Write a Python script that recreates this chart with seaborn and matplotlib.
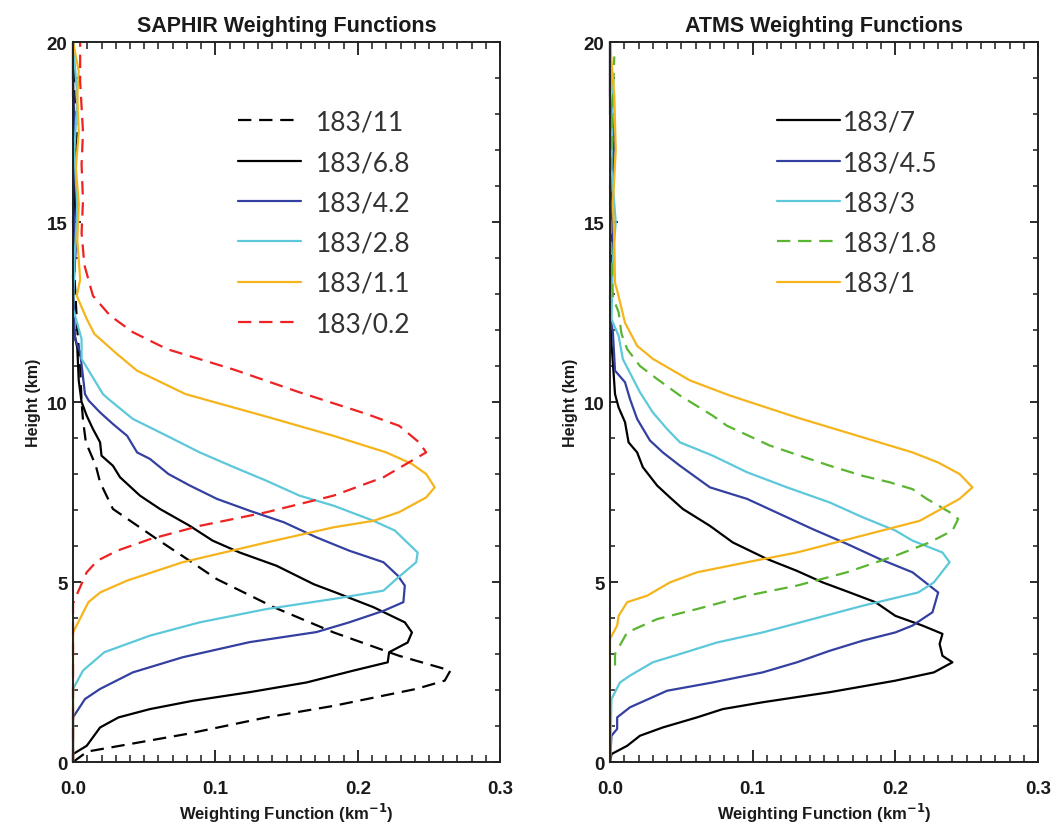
import numpy as np
import pandas as pd
import matplotlib
matplotlib.use('Agg')
import matplotlib.pyplot as plt
import seaborn as sns
from matplotlib.ticker import MultipleLocator

# ---- SAPHIR channels (height km, weighting function km^-1) ----
saphir_labels = ['183/11', '183/6.8', '183/4.2', '183/2.8', '183/1.1', '183/0.2']

s11_h = [0.0, 0.29, 0.78, 1.24, 1.56, 2.03, 2.26, 2.54, 2.95, 3.60, 4.30, 5.08, 5.64, 6.19, 7.03, 7.77,
         8.23, 8.88, 9.50, 10.0, 11.0, 12.0, 13.5, 15.0, 16.5, 17.3, 18.5, 20.0]
s11_w = [0.0, 0.010, 0.080, 0.136, 0.183, 0.241, 0.261, 0.265, 0.229, 0.183, 0.141, 0.101, 0.080, 0.059, 0.028, 0.019,
         0.016, 0.009, 0.007, 0.006, 0.005, 0.003, 0.001, 0.0, 0.001, 0.003, 0.001, 0.0]

s68_h = [0.0, 0.22, 0.45, 0.96, 1.24, 1.47, 1.70, 1.94, 2.21, 2.54, 2.77, 3.05, 3.32, 3.60, 3.88, 4.30, 4.67,
         4.94, 5.45, 5.82, 6.15, 6.56, 7.03, 7.40, 7.91, 8.23, 8.51, 8.88, 9.25, 9.62, 10.0, 10.6, 11.5, 12.0,
         13.5, 15.0, 17.0, 18.5, 20.0]
s68_w = [0.0, 0.0, 0.0096, 0.019, 0.032, 0.054, 0.084, 0.124, 0.164, 0.197, 0.221, 0.222, 0.235, 0.238, 0.233,
         0.211, 0.187, 0.169, 0.143, 0.117, 0.098, 0.082, 0.061, 0.047, 0.033, 0.028, 0.020, 0.019, 0.014, 0.0096,
         0.006, 0.004, 0.003, 0.0005, 0.0, 0.001, 0.002, 0.0, 0.0]

s42_h = [0.0, 1.24, 1.75, 2.03, 2.49, 2.91, 3.33, 3.61, 3.88, 4.20, 4.44, 4.90, 5.18, 5.55, 5.87, 6.24, 6.66,
         6.98, 7.31, 7.68, 8.0, 8.42, 8.60, 9.06, 9.39, 9.71, 10.04, 10.22, 11.38, 11.75, 13.0, 14.3, 15.5,
         17.0, 19.0, 20.0]
s42_w = [0.0, 0.0, 0.0084, 0.019, 0.042, 0.077, 0.124, 0.171, 0.194, 0.218, 0.232, 0.233, 0.228, 0.218, 0.194,
         0.171, 0.148, 0.124, 0.101, 0.082, 0.067, 0.054, 0.045, 0.038, 0.028, 0.019, 0.011, 0.0084, 0.005,
         0.0014, 0.0, 0.002, 0.0, 0.001, 0.0, 0.0]

s28_h = [0.0, 2.03, 2.54, 3.05, 3.51, 3.88, 4.25, 4.53, 4.76, 5.08, 5.55, 5.82, 6.43, 6.70, 7.12, 7.40, 7.81,
         8.19, 8.60, 9.06, 9.53, 10.08, 10.22, 11.2, 11.75, 12.6, 14.0, 15.3, 17.0, 18.5, 20.0]
s28_w = [0.0, 0.0, 0.007, 0.022, 0.054, 0.089, 0.136, 0.183, 0.218, 0.227, 0.241, 0.242, 0.226, 0.211, 0.183,
         0.159, 0.136, 0.113, 0.089, 0.066, 0.042, 0.025, 0.021, 0.006, 0.006, 0.0, 0.001, 0.003, 0.001, 0.003, 0.0]

s11b_h = [0.0, 3.60, 4.44, 4.71, 5.04, 5.55, 6.10, 6.52, 6.70, 6.94, 7.35, 7.63, 8.0, 8.28, 8.60, 9.06, 9.57,
          10.22, 10.87, 11.33, 11.89, 12.31, 12.95, 13.4, 14.5, 15.5, 16.5, 17.5, 18.5, 19.2, 20.0]
s11b_w = [0.0, 0.0, 0.0108, 0.019, 0.038, 0.077, 0.136, 0.183, 0.211, 0.229, 0.248, 0.254, 0.248, 0.238, 0.220,
          0.183, 0.138, 0.079, 0.045, 0.031, 0.015, 0.0096, 0.0026, 0.005, 0.003, 0.004, 0.002, 0.004, 0.003,
          0.004, 0.0]

s02_h = [0.0, 4.40, 4.77, 5.27, 5.59, 5.87, 6.19, 6.56, 6.94, 7.40, 7.91, 8.28, 8.60, 8.88, 9.34, 9.67, 10.27,
         10.9, 11.47, 11.94, 12.4, 12.95, 13.8, 14.7, 15.6, 16.6, 17.5, 18.9, 20.0]
s02_w = [0.0, 0.0, 0.004, 0.0096, 0.017, 0.031, 0.054, 0.089, 0.136, 0.183, 0.218, 0.234, 0.248, 0.243, 0.229,
         0.206, 0.159, 0.113, 0.066, 0.042, 0.026, 0.014, 0.008, 0.006, 0.007, 0.006, 0.007, 0.005, 0.005]

# ---- ATMS channels ----
atms_labels = ['183/7', '183/4.5', '183/3', '183/1.8', '183/1']

a7_h = [0.0, 0.22, 0.45, 0.73, 0.96, 1.24, 1.47, 1.66, 1.94, 2.26, 2.49, 2.77, 2.95, 3.28, 3.56, 3.79, 4.06,
        4.44, 4.71, 4.99, 5.31, 5.64, 6.10, 6.56, 7.03, 7.35, 7.68, 8.19, 8.60, 8.88, 9.44, 9.85, 10.22, 11.66,
        12.9, 14.5, 16.0, 16.7, 18.0, 20.0]
a7_w = [0.0, 0.001, 0.012, 0.021, 0.037, 0.061, 0.079, 0.107, 0.154, 0.200, 0.227, 0.240, 0.233, 0.231, 0.233,
        0.219, 0.200, 0.186, 0.168, 0.149, 0.131, 0.110, 0.086, 0.070, 0.051, 0.042, 0.033, 0.023, 0.019, 0.013,
        0.0105, 0.006, 0.0035, 0.001, 0.0, 0.001, 0.0, 0.002, 0.0, 0.0]

a45_h = [0.0, 0.73, 0.92, 1.24, 1.52, 1.98, 2.21, 2.49, 2.77, 3.09, 3.37, 3.60, 3.79, 4.16, 4.71, 5.27, 5.64,
         6.06, 6.47, 6.89, 7.31, 7.63, 8.23, 8.60, 8.93, 9.53, 10.08, 10.55, 10.87, 11.94, 12.4, 14.0, 15.5,
         17.3, 18.5, 20.0]
a45_w = [0.0, 0.001, 0.005, 0.005, 0.014, 0.040, 0.072, 0.107, 0.131, 0.154, 0.177, 0.200, 0.212, 0.226, 0.230,
         0.212, 0.189, 0.166, 0.142, 0.119, 0.096, 0.070, 0.049, 0.037, 0.028, 0.019, 0.014, 0.0105, 0.0035,
         0.002, 0.0, 0.002, 0.001, 0.003, 0.0, 0.0]

a3_h = [0.0, 1.75, 2.21, 2.40, 2.77, 3.0, 3.32, 3.60, 3.97, 4.34, 4.71, 4.99, 5.55, 5.82, 6.15, 6.43, 6.80,
        7.21, 7.63, 8.05, 8.51, 8.88, 9.25, 9.71, 10.27, 11.19, 11.84, 12.3, 14.0, 15.0, 16.5, 18.5, 20.0]
a3_w = [0.0, 0.001, 0.007, 0.014, 0.030, 0.049, 0.075, 0.107, 0.142, 0.177, 0.216, 0.227, 0.238, 0.233, 0.212,
        0.200, 0.177, 0.154, 0.124, 0.096, 0.072, 0.049, 0.040, 0.030, 0.021, 0.009, 0.006, 0.001, 0.002, 0.004,
        0.001, 0.002, 0.0]

a18_h = [2.68, 3.0, 3.6, 3.97, 4.25, 4.62, 4.90, 5.27, 5.73, 6.10, 6.43, 6.75, 6.94, 7.31, 7.58, 7.77, 7.95,
         8.23, 8.79, 9.34, 9.62, 10.18, 10.64, 11.0, 11.47, 11.9, 12.5, 12.9, 14.0, 15.5, 17.0, 18.5, 19.6]
a18_w = [0.0035, 0.0035, 0.012, 0.033, 0.061, 0.096, 0.131, 0.166, 0.200, 0.224, 0.240, 0.244, 0.238, 0.222,
         0.212, 0.196, 0.177, 0.154, 0.112, 0.082, 0.072, 0.049, 0.033, 0.021, 0.012, 0.008, 0.006, 0.002, 0.001,
         0.0, 0.001, 0.002, 0.003]

a1_h = [0.0, 3.42, 3.79, 4.06, 4.44, 4.62, 4.99, 5.27, 5.55, 5.82, 6.29, 6.70, 7.31, 7.63, 8.0, 8.32, 8.60,
        9.02, 9.57, 10.18, 10.6, 11.2, 11.56, 12.2, 13.1, 13.3, 14.5, 15.5, 17.0, 18.5, 20.0]
a1_w = [0.0, 0.0, 0.005, 0.006, 0.012, 0.026, 0.042, 0.061, 0.096, 0.131, 0.177, 0.217, 0.245, 0.254, 0.245,
        0.230, 0.212, 0.177, 0.131, 0.084, 0.056, 0.030, 0.019, 0.0105, 0.005, 0.0035, 0.003, 0.002, 0.004,
        0.003, 0.0]

BLACK = '#000000'
BLUE = '#3440a0'
CYAN = '#5cc8da'
ORANGE = '#f6b41c'
RED = '#ee2222'
GREEN = '#5bb531'
DASH = (0, (6, 3.5))

saphir = [(s11_w, s11_h, BLACK, DASH), (s68_w, s68_h, BLACK, '-'), (s42_w, s42_h, BLUE, '-'),
          (s28_w, s28_h, CYAN, '-'), (s11b_w, s11b_h, ORANGE, '-'), (s02_w, s02_h, RED, DASH)]
atms = [(a7_w, a7_h, BLACK, '-'), (a45_w, a45_h, BLUE, '-'), (a3_w, a3_h, CYAN, '-'),
        (a18_w, a18_h, GREEN, DASH), (a1_w, a1_h, ORANGE, '-')]

sns.set_theme(style='ticks')
plt.rcParams['font.family'] = ['Liberation Sans', 'DejaVu Sans']

fig = plt.figure(figsize=(10.6, 8.29), dpi=100)
ax1 = fig.add_axes([0.0689, 0.0796, 0.403, 0.8685])
ax2 = fig.add_axes([0.5755, 0.0796, 0.4038, 0.8685])


def draw_panel(ax, curves, labels, title, text_pad, anchor_x):
    for (w, h, col, ls), lab in zip(curves, labels):
        df = pd.DataFrame({'wf': w, 'height': h})
        sns.lineplot(data=df, x='wf', y='height', orient='y', estimator=None, sort=True,
                     color=col, linestyle=ls, linewidth=1.6, label=lab, ax=ax, clip_on=False)
    ax.set_xlim(0, 0.3)
    ax.set_ylim(0, 20)
    ax.xaxis.set_major_locator(MultipleLocator(0.1))
    ax.xaxis.set_minor_locator(MultipleLocator(0.01))
    ax.yaxis.set_major_locator(MultipleLocator(5))
    ax.yaxis.set_minor_locator(MultipleLocator(1))
    ax.set_xticks([0.0, 0.1, 0.2, 0.3])
    ax.set_xticklabels(['0.0', '0.1', '0.2', '0.3'])
    ax.tick_params(axis='x', which='major', direction='in', length=9, width=1.3, top=True, pad=13,
                   labelsize=13.5, colors='#1a1a1a')
    ax.tick_params(axis='x', which='minor', direction='in', length=5, width=1.1, top=True, colors='#1a1a1a')
    ax.tick_params(axis='y', which='major', direction='in', length=6, width=1.3, right=True, pad=4,
                   labelsize=13.5, colors='#1a1a1a')
    ax.tick_params(axis='y', which='minor', direction='in', length=3.5, width=1.1, right=True, colors='#1a1a1a')
    for lbl in ax.get_xticklabels() + ax.get_yticklabels():
        lbl.set_fontweight('bold')
    for sp in ax.spines.values():
        sp.set_linewidth(1.4)
        sp.set_color('#222222')
    ax.set_title(title, fontsize=15.5, fontweight='bold', color='#1a1a1a', pad=8)
    ax.set_xlabel(r'Weighting Function (km$^{\mathbf{-1}}$)', fontsize=12, fontweight='bold',
                  color='#1a1a1a', labelpad=3)
    ax.set_ylabel('Height (km)', fontsize=11.5, fontweight='bold', color='#1a1a1a', labelpad=4)
    leg = ax.legend(loc='upper left', bbox_to_anchor=(anchor_x, 0.906), frameon=False,
                    handlelength=2.4, handletextpad=text_pad, labelspacing=0.58,
                    borderpad=0, borderaxespad=0,
                    prop={'family': ['Lato', 'DejaVu Sans'], 'weight': 'normal', 'size': 19})
    for t in leg.get_texts():
        t.set_color('#333333')


draw_panel(ax1, saphir, saphir_labels, 'SAPHIR Weighting Functions', 0.55, 0.386)
draw_panel(ax2, atms, atms_labels, 'ATMS Weighting Functions', 0.08, 0.39)

fig.savefig('out.png', dpi=100)
